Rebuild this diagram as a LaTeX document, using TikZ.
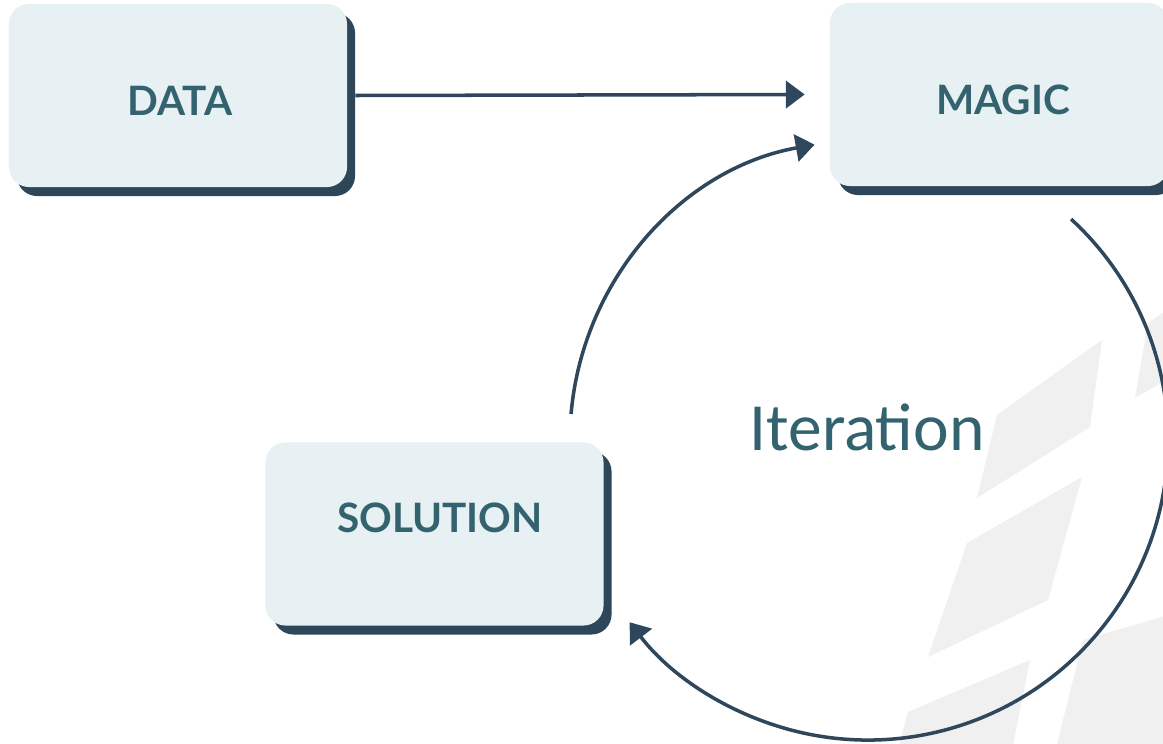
\documentclass[tikz,border=0pt]{standalone}
\usepackage{fontspec}
\setmainfont{Lato}
\newfontfamily\iterfont{Carlito}
\usetikzlibrary{arrows.meta,shadows,calc}
\definecolor{boxfill}{HTML}{E7F0F3}
\definecolor{shadowcol}{HTML}{2E4659}
\definecolor{linecol}{HTML}{2E475C}
\definecolor{textcol}{HTML}{33636F}
\definecolor{bggrey}{HTML}{F0F0F0}
\tikzset{
  stagebox/.style={draw=none, fill=boxfill, rounded corners=0.5cm,
    minimum width=8.45cm, minimum height=4.575cm, inner sep=0pt,
    drop shadow={shadow xshift=0.2cm, shadow yshift=-0.225cm, fill=shadowcol, opacity=1}},
  boxlabel/.style={text=textcol, inner sep=0pt, font=\fontsize{28.8}{30}\selectfont\bfseries},
  flowline/.style={draw=linecol, line width=2.5pt, -{Triangle[length=0.47cm, width=0.68cm]}},
  bgshape/.style={fill=bggrey, draw=none}
}
\begin{document}
\begin{tikzpicture}[x=0.025cm, y=0.025cm]
\useasboundingbox (0,0) rectangle (1163,-743);
\clip (0,0) rectangle (1163,-743);
\fill[white] (0,0) rectangle (1163,-743);
% background shapes
\fill[bgshape] (997,-415) -- (1102,-340) -- (1090,-427) -- (977,-498) -- cycle;
\fill[bgshape] (1135,-398) -- (1148,-323) -- (1175,-304) -- (1175,-375) -- cycle;
\fill[bgshape] (967,-543) -- (1082,-477) -- (1048,-600) -- (928,-657) -- cycle;
\fill[bgshape] (908,-712) -- (1030,-660) -- (1010,-760) -- (895,-760) -- cycle;
\fill[bgshape] (1083,-640) -- (1175,-613) -- (1175,-760) -- (1053,-760) -- cycle;
% boxes
\node[stagebox] (data) at (178,-95.5) {};
\node[stagebox] (magic) at (999,-94.5) {};
\node[stagebox] (sol) at (434.5,-534) {};
\node[boxlabel] (datatext) at (180,-100.5) {DATA};
\node[boxlabel] (magictext) at (1003,-100) {MAGIC};
\node[boxlabel] (soltext) at (440,-517.5) {SOLUTION};
% iteration label
\coordinate (cc) at (868,-440);
\node[text=textcol, inner sep=0pt, anchor=base, font=\iterfont\fontsize{48}{50}\selectfont] (iter) at (867,-450) {Iteration};
% connectors
\draw[flowline] ([xshift=0.2cm]data.east) -- ([xshift=-0.625cm]magic.west);
\coordinate (arcAstart) at ($(cc)+(175:7.45cm)$);
\coordinate (arcBstart) at ($(cc)+(47.4:7.5cm)$);
\draw[flowline] (arcAstart) arc[start angle=175, end angle=100, x radius=7.4cm, y radius=7.5cm];
\draw[flowline] (arcBstart) arc[start angle=47.4, end angle=-142.6, radius=7.5cm];
\end{tikzpicture}
\end{document}
